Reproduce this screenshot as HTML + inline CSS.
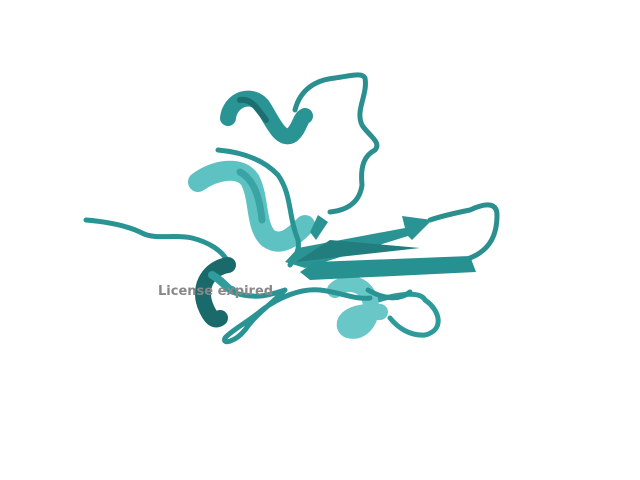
<!DOCTYPE html>
<html><head><meta charset="utf-8"><style>
html,body{margin:0;padding:0;background:#fff;width:640px;height:480px;overflow:hidden}
svg{display:block}
</style></head><body>
<svg width="640" height="480" viewBox="0 0 640 480">
<g fill="none" stroke-linecap="round" stroke-linejoin="round">
  <!-- back loops -->
  <path d="M295,110 C300,90 315,80 335,78 C350,76 362,72 365,78 C368,95 355,110 362,125 C368,135 382,142 375,150 C365,155 360,165 362,185 C360,200 350,210 330,212" stroke="#2b8f90" stroke-width="5"/>
  <path d="M430,220 C445,215 460,212 470,210 C485,203 497,202 497,215 C497,235 490,250 470,258" stroke="#2b8f90" stroke-width="5"/>
  <path d="M378,300 C395,295 420,290 425,300 C440,310 445,330 425,335 C410,336 398,328 390,318" stroke="#2d9a9b" stroke-width="5"/>
  <!-- upper helix -->
  <path d="M228,118 C230,100 250,92 262,105 C272,120 280,142 292,135 C300,128 300,118 305,116" stroke="#2a9394" stroke-width="16"/>
  <path d="M240,100 C252,98 258,110 266,120" stroke="#1c6f70" stroke-width="6"/>
  <!-- middle light helix -->
  <path d="M198,182 C215,170 240,165 250,180 C260,200 255,225 268,238 C282,248 295,235 305,225" stroke="#5ec2c3" stroke-width="20"/>
  <path d="M240,172 C255,180 260,200 262,220" stroke="#3aa4a5" stroke-width="7"/>
  <!-- lower light helix -->
  <path d="M335,290 C345,280 365,282 370,300 C375,318 362,335 348,330 C340,325 345,310 380,312" stroke="#6ac7c8" stroke-width="16"/>
  <!-- loop over helix -->
  <path d="M218,150 C240,152 262,158 278,175 C292,195 288,215 298,240 C300,250 295,258 290,265" stroke="#2a9394" stroke-width="5"/>
  <!-- left N-terminal loop -->
  <path d="M86,220 C110,222 128,226 142,233 C155,240 175,234 192,238 C208,242 222,250 228,262" stroke="#2a9394" stroke-width="5"/>
  <!-- small dark helix -->
  <path d="M228,265 C210,268 198,285 205,305 C210,318 215,322 220,318" stroke="#1a6a6b" stroke-width="16"/>
  <path d="M212,275 C222,280 228,290 232,290" stroke="#2f9d9e" stroke-width="8"/>
  <!-- bottom loop -->
  <path d="M232,292 C255,300 270,295 285,290 C270,305 255,315 245,330 C235,342 222,345 225,338 C232,330 248,322 262,310 C278,298 300,288 320,290 C340,292 355,300 370,298" stroke="#2a9394" stroke-width="5"/>
</g>
<!-- beta strands -->
<polygon points="285,262 298,248 405,228 402,216 432,220 412,240 408,236 305,268" fill="#2a9394"/>
<polygon points="300,272 315,262 470,256 476,272 310,280" fill="#279091"/>
<polygon points="296,262 330,240 420,248 330,258" fill="#217d7e"/>
<polygon points="310,232 318,215 328,222 316,240" fill="#2a9394"/>
<path d="M368,290 C385,300 400,300 410,292" fill="none" stroke="#2a9394" stroke-width="5" stroke-linecap="round"/>
<text x="158" y="295" font-family="'DejaVu Sans','Liberation Sans',sans-serif" font-weight="bold" font-size="13" fill="#888">License expired</text>
</svg>
</body></html>
